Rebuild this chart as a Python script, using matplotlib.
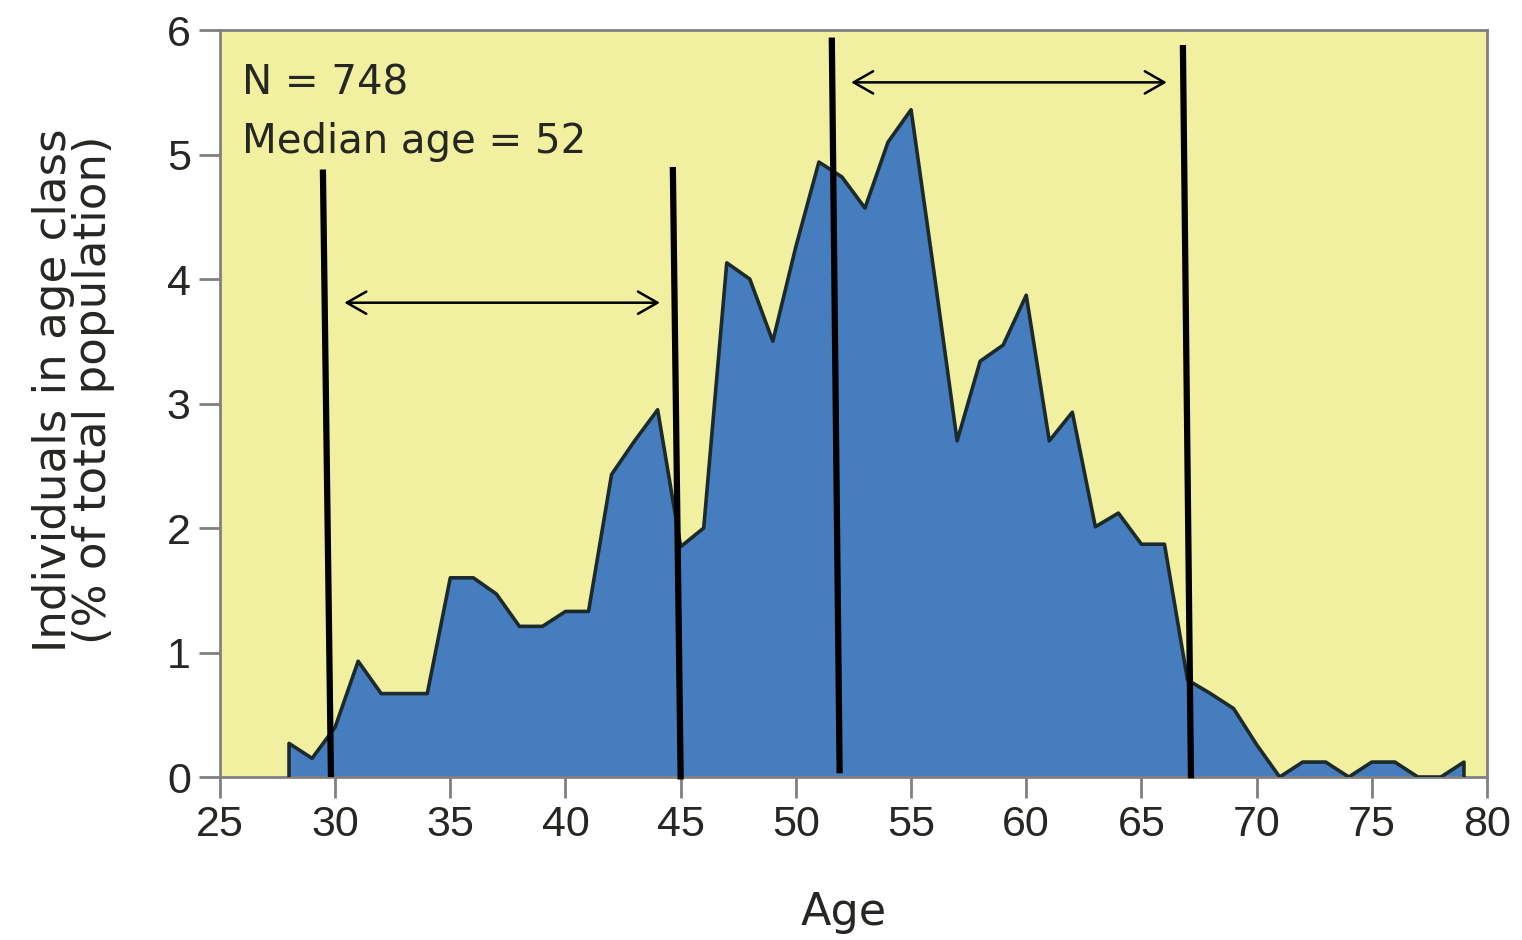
import matplotlib
matplotlib.use("Agg")
import matplotlib.pyplot as plt
import numpy as np

# ─── Data ────────────────────────────────────────────────────────────────────
ages = list(range(28, 80))
pct = [0.27, 0.15, 0.40, 0.93, 0.67, 0.67, 0.67, 1.60, 1.60, 1.47,
       1.21, 1.21, 1.33, 1.33, 2.43, 2.70, 2.95, 1.85, 2.00, 4.13,
       4.00, 3.50, 4.26, 4.94, 4.82, 4.57, 5.10, 5.36, 4.05, 2.70,
       3.34, 3.47, 3.87, 2.70, 2.93, 2.01, 2.12, 1.87, 1.87, 0.78,
       0.67, 0.55, 0.26, 0.00, 0.12, 0.12, 0.00, 0.12, 0.12, 0.00,
       0.00, 0.12]

x_ticks = [25, 30, 35, 40, 45, 50, 55, 60, 65, 70, 75, 80]
y_ticks = [0, 1, 2, 3, 4, 5, 6]

# hand-drawn overlay: (x_top, y_top, x_bottom, y_bottom)
marker_lines = [(29.47, 4.88, 29.82, 0.0),
                (44.66, 4.90, 45.00, -0.02),
                (51.56, 5.94, 51.90, 0.03),
                (66.80, 5.88, 67.15, -0.01)]
# double arrows: (x_start, x_end, y)
arrows = [(30.4, 44.1, 3.81), (52.4, 66.1, 5.58)]

info_lines = ["N = 748", "Median age = 52"]
info_y = [5.48, 5.01]

# ─── Style ───────────────────────────────────────────────────────────────────
BG = "#f0f0a0"
FILL = "#467dbe"
EDGE = "#1c2a2c"
AXIS = "#808080"
TEXT = "#262622"
TEXT_FONT = ["DejaVu Sans"]
TICK_FONT = ["Liberation Sans", "DejaVu Sans"]

fig = plt.figure(figsize=(15.22, 9.40), dpi=100)
ax = fig.add_axes([0.1445, 0.1734, 0.8325, 0.7946])
ax.set_facecolor(BG)

ax.fill_between(ages, pct, 0, color=FILL, lw=0, zorder=2)
xs = np.r_[ages[0], ages, ages[-1]]
ys = np.r_[0, pct, 0]
ax.plot(xs, ys, color=EDGE, lw=2.6, zorder=3)

ax.set_xlim(25, 80)
ax.set_ylim(0, 6)
ax.set_xticks(x_ticks)
ax.set_yticks(y_ticks)

for s in ax.spines.values():
    s.set_color(AXIS)
    s.set_linewidth(2)
ax.tick_params(axis="both", direction="out", length=15, width=2, color=AXIS,
               labelsize=31, labelcolor=TEXT)
ax.tick_params(axis="x", pad=5)
ax.tick_params(axis="y", pad=6)
for lab in ax.get_xticklabels() + ax.get_yticklabels():
    lab.set_family(TICK_FONT)

ax.set_xlabel("Age", fontsize=32, color=TEXT, family=TEXT_FONT)
ax.xaxis.set_label_coords(0.492, -0.152)
ax.set_ylabel("Individuals in age class\n(% of total population)",
              fontsize=32.5, color=TEXT, linespacing=0.9, family=TEXT_FONT)
ax.yaxis.set_label_coords(-0.083, 0.518)

for txt, yv in zip(info_lines, info_y):
    ax.text(25.95, yv, txt, fontsize=29, color=TEXT, va="baseline",
            family=TEXT_FONT, zorder=5)

for x0, y0, x1, y1 in marker_lines:
    ax.plot([x0, x1], [y0, y1], color="black", lw=4.5, zorder=6,
            solid_capstyle="butt", clip_on=False)

for xa, xb, y in arrows:
    ax.annotate("", xy=(xb, y), xytext=(xa, y),
                arrowprops=dict(arrowstyle="<->,head_length=0.7,head_width=0.4",
                                mutation_scale=20, color="black", lw=1.8,
                                shrinkA=0, shrinkB=0), zorder=6)

fig.savefig("out.png", dpi=100, facecolor="white")
